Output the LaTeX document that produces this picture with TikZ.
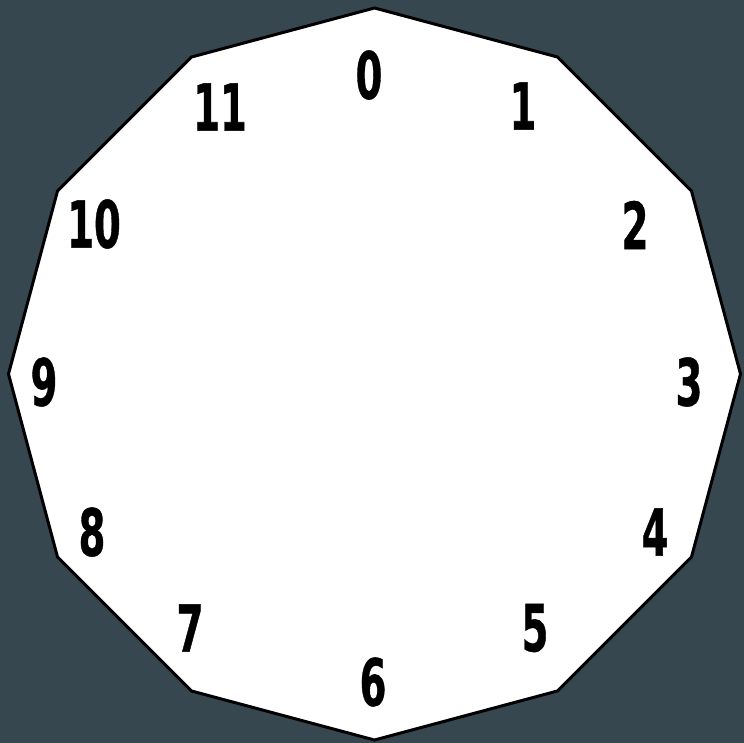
\documentclass[tikz,border=0pt]{standalone}
\usepackage{fontspec}
\usepackage{graphicx}
\usepackage{tikz}
\usetikzlibrary{calc}
\newfontfamily\hourfont{DejaVu Sans Condensed}[BoldFont={DejaVu Sans Condensed Bold}, BoldFeatures={FakeBold=0.8}]
\definecolor{slatebg}{HTML}{37474F}
\tikzset{hour/.style={inner sep=0pt, font=\hourfont\bfseries\fontsize{37}{37}\selectfont}}
\newcommand{\narrow}[1]{\scalebox{0.66}[1]{#1}}

\begin{document}
\begin{tikzpicture}[x=0.02cm, y=-0.02cm]
\useasboundingbox (0,0) rectangle (744,743);

% Background
\fill[slatebg] (0,0) rectangle (744,743);

% Dodecagon
\coordinate (c) at (374.5,374);
\fill[white, draw=black, line width=1.7pt, line join=miter]
  ($(c)+(90:366)$) \foreach \k in {1,...,11} {-- ($(c)+(90-30*\k:366)$)} -- cycle;

% Hour labels
\foreach \h/\px/\py in {0/369/75, 1/523/106, 2/635/225, 3/689/382, 4/655/532, 5/535/628,
                        6/373/682, 7/190/628, 8/92/532, 9/44/382, 10/94/224, 11/220/107}
  \node[hour] (n\h) at (\px,\py) {\narrow{\h}};
\end{tikzpicture}
\end{document}
